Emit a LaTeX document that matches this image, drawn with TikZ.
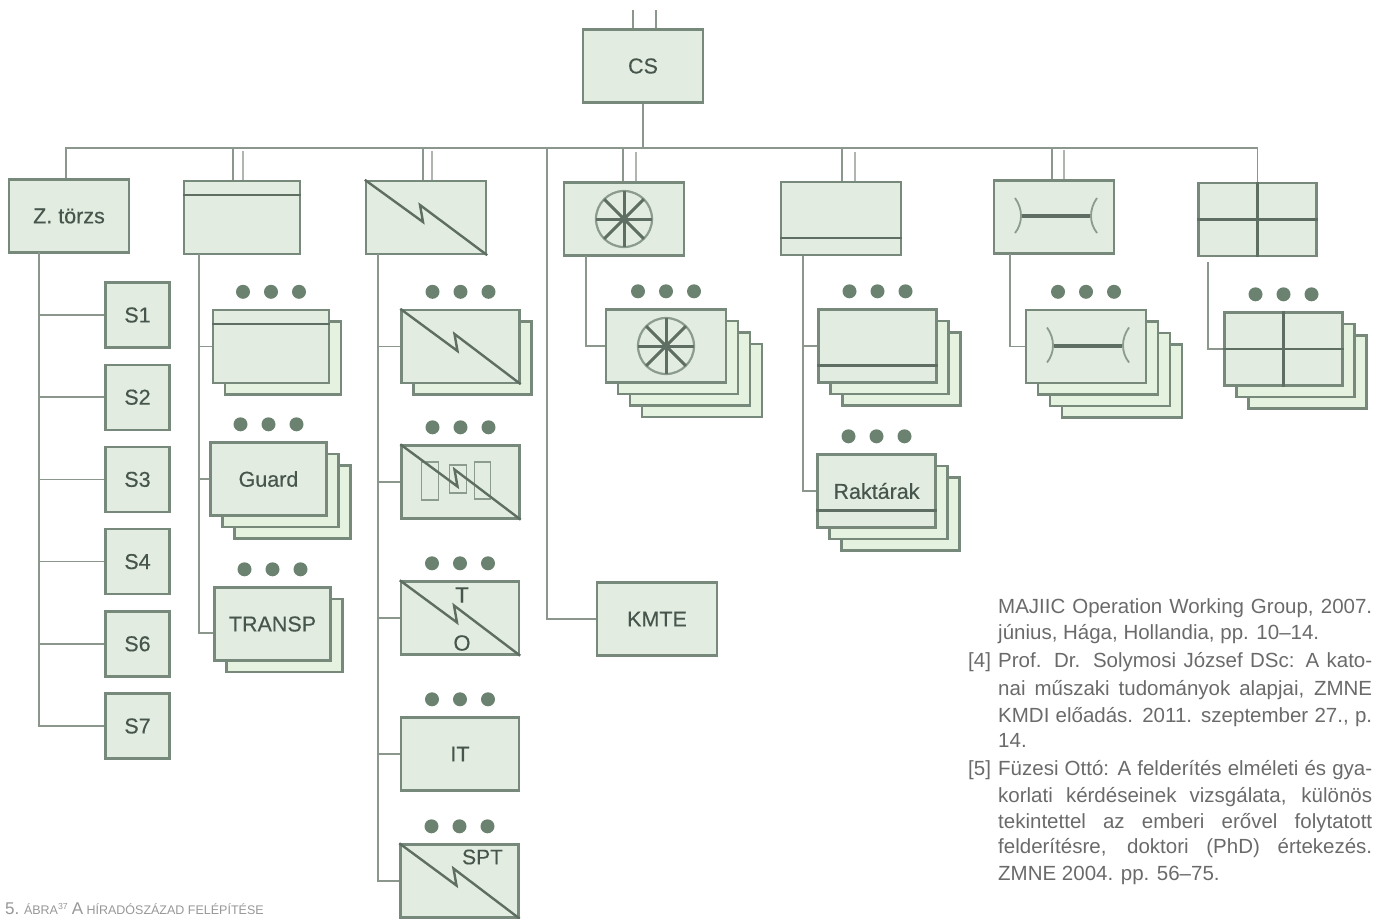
\documentclass[tikz,border=0pt]{standalone}
\usepackage{fontspec}
\setmainfont{Liberation Sans}
\newfontfamily\labelfont[FakeBold=0.35]{Liberation Sans}
\usepackage{xcolor}
\usetikzlibrary{positioning, calc, shadows}
\definecolor{box-line}{HTML}{76897A}
\definecolor{box-fill}{HTML}{E3ECE0}
\definecolor{back-fill}{HTML}{E6F2E0}
\definecolor{link-line}{HTML}{8B978D}
\definecolor{dot-fill}{HTML}{6C8270}
\definecolor{label-text}{HTML}{46564C}
\definecolor{ref-text}{HTML}{6A6A6A}
\tikzset{
	unit/.style={draw=box-line, fill=box-fill, line width=2.4pt, inner sep=0pt, minimum width=118pt, minimum height=73pt, text=label-text, font=\labelfont\fontsize{21.5}{24}\selectfont},
	narrow/.style={minimum width=116pt},
	staff/.style={unit, minimum width=64pt, minimum height=65pt},
	backcopy/.style={copy shadow={shadow xshift=#1*12pt, shadow yshift=-#1*11.5pt, fill=back-fill, draw=box-line, line width=2.4pt}},
	stackone/.style={backcopy=1},
	stacktwo/.style={backcopy=2, backcopy=1},
	stackthree/.style={backcopy=3, backcopy=2, backcopy=1},
	link/.style={draw=link-line, line width=1.6pt},
	stub/.style={draw=link-line!70, line width=2pt},
	symline/.style={draw=box-line!80!black, line width=2.4pt},
	thinline/.style={draw=box-line!85, line width=1.8pt},
	dotmark/.style={circle, fill=dot-fill, inner sep=0pt, minimum size=14pt},
	reftext/.style={anchor=base west, inner sep=0pt, text=ref-text, font=\fontsize{20.5}{22}\selectfont}
}
\newcommand{\threedots}[1]{
	\foreach \d/\n in {-28/l, 0/m, 28/r}
		\node[dotmark] (#1\n) at ($(#1.north)+(\d,-17)$) {};
}
\newcommand{\bolt}[1]{
	\draw[symline] (#1.north west) -- ($(#1.center)+(-3,4.5)$) -- ($(#1.center)+(-6,-12.5)$) -- (#1.south east);
}
\newcommand{\bandline}[2]{
	\draw[symline] ($(#1.north west)+(0,#2)$) -- ($(#1.north east)+(0,#2)$);
}
\newcommand{\wheel}[1]{
	\draw[thinline, line width=2.2pt] (#1.center) circle (28pt);
	\foreach \a in {0,45,...,315}
		\draw[symline, line width=3pt] (#1.center) -- +(\a:28pt);
	\fill[box-line!80!black] (#1.center) circle (4pt);
}
\newcommand{\beam}[1]{
	\draw[symline, line width=4pt] ($(#1.center)+(-32,-1)$) -- ($(#1.center)+(36,-1)$);
	\draw[thinline] ($(#1.center)+(-39,-19)$) .. controls ($(#1.center)+(-31,-8)$) and ($(#1.center)+(-31,6)$) .. ($(#1.center)+(-39,16)$);
	\draw[thinline] ($(#1.center)+(43,-19)$) .. controls ($(#1.center)+(35,-8)$) and ($(#1.center)+(35,6)$) .. ($(#1.center)+(43,16)$);
}
\newcommand{\crosslines}[1]{
	\draw[symline] (#1.north) -- (#1.south);
	\draw[symline] (#1.west) -- (#1.east);
}
\begin{document}
\begin{tikzpicture}[x=1pt, y=-1pt, node distance=14.8pt]
	\useasboundingbox (0,0) rectangle (1375,918);
	\node[unit, minimum width=120pt] (CS) at (643,66) {CS};
	\node[unit, minimum width=120pt] (zt) at (69,216) {Z. törzs};
	\node[unit, narrow] (b2) at (242,217.5) {};
	\node[unit, minimum width=120pt] (b3) at (426,217.5) {};
	\node[unit, minimum width=120pt] (b4) at (624,219) {};
	\node[unit, minimum width=120pt] (b5) at (841,218.5) {};
	\node[unit, minimum width=120pt] (b6) at (1054,217) {};
	\node[unit] (b7) at (1257.5,219.5) {};
	\node[unit, minimum width=120pt] (KMTE) at (657,619) {KMTE};

	\node[staff] (S1) at (137.5,315) {S1};
	\node[staff, below =of S1] (S2) {S2};
	\node[staff, below =of S2] (S3) {S3};
	\node[staff, below =of S3] (S4) {S4};
	\node[staff, below =of S4] (S6) {S6};
	\node[staff, below =of S6] (S7) {S7};

	\node[unit, narrow, stackone] (a2) at (271,346.5) {};
	\node[unit, narrow, stacktwo] (guard) at (268.5,479) {Guard};
	\node[unit, narrow, stackone] (transp) at (272.5,624) {TRANSP};
	\node[unit, stackone] (c1) at (460.5,346.5) {};
	\node[unit] (c2) at (460.5,482) {};
	\node[unit] (c3) at (460,618) {};
	\node[unit] (it) at (460,754) {IT};
	\node[unit] (c5) at (459.5,881) {};
	\node[unit, minimum width=120pt, stackthree] (d1) at (666,346) {};
	\node[unit, stacktwo] (e1) at (877.5,346) {};
	\node[unit, stacktwo] (raktar) at (876.5,491) {Raktárak};
	\node[unit, minimum width=120pt, stackthree] (f1) at (1086,346.5) {};
	\node[unit, stacktwo] (h1) at (1283.5,349) {};

	\threedots{a2} \threedots{guard} \threedots{transp}
	\threedots{c1} \threedots{c2} \threedots{c3} \threedots{it} \threedots{c5}
	\threedots{d1} \threedots{e1} \threedots{raktar} \threedots{f1} \threedots{h1}

	\bandline{b2}{15} \bandline{a2}{15}
	\bandline{b5}{57} \bandline{e1}{57} \bandline{raktar}{57}
	\bolt{b3} \bolt{c1}
	\draw[thinline] ($(c2.center)+(-39,-20)$) rectangle ($(c2.center)+(-22,18)$);
	\draw[thinline] ($(c2.center)+(-11,-17)$) rectangle ($(c2.center)+(6,11)$);
	\draw[thinline] ($(c2.center)+(14,-20)$) rectangle ($(c2.center)+(30,17)$);
	\bolt{c2} \bolt{c3} \bolt{c5}
	\wheel{b4} \wheel{d1}
	\beam{b6} \beam{f1}
	\crosslines{b7} \crosslines{h1}

	\node[text=label-text, font=\labelfont\fontsize{22}{24}\selectfont] (tlabel) at ($(c3.center)+(2,-23)$) {T};
	\node[text=label-text, font=\labelfont\fontsize{22}{24}\selectfont] (olabel) at ($(c3.center)+(2,25)$) {O};
	\node[text=label-text, font=\labelfont\fontsize{21}{24}\selectfont] (spt) at ($(c5.center)+(23,-24)$) {SPT};

	\coordinate (bus) at (643,148);
	\coordinate (kmtebus) at (547,148);
	\coordinate (tz) at (39,252);
	\coordinate (t2) at (199,254);
	\coordinate (t3) at (378,254);
	\coordinate (t4) at (586,256);
	\coordinate (t5) at (803,256);
	\coordinate (t6) at (1010,254);
	\coordinate (t7) at (1208,262);

	\draw[link] (CS) -- (bus);
	\draw[link] (bus) -| ([xshift=-3pt]zt.north);
	\draw[link] (bus) -| ([xshift=-9pt]b2.north);
	\draw[link] (bus) -| ([xshift=-3pt]b3.north);
	\draw[link] (bus) -| ([xshift=-1pt]b4.north);
	\draw[link] (bus) -| ([xshift=1pt]b5.north);
	\draw[link] (bus) -| ([xshift=-2pt]b6.north);
	\draw[link] (bus) -| (b7.north);
	\foreach \n/\s in {b2/1, b3/6, b4/12, b5/14, b6/10}
		\draw[stub] ([xshift=\s pt]\n.north) -- ++(0,-29);
	\draw[link] ([xshift=-10pt]CS.north) -- ++(0,-18);
	\draw[link] ([xshift=13pt]CS.north) -- ++(0,-18);
	\draw[link] (kmtebus) |- (KMTE);
	\foreach \from/\to in {tz/S1, tz/S2, tz/S3, tz/S4, tz/S6, tz/S7, t2/a2, t2/guard, t3/c1, t3/c2, t3/c3, t3/it, t3/c5, t4/d1, t5/e1, t5/raktar, t6/f1, t7/h1}
		\draw[link] (\from) |- (\to);
	\draw[link] (t2) |- ([yshift=-9pt]transp.west);

	\foreach \i/\y/\t in {1/613/{MAJIIC Operation Working Group, 2007.}, 3/667/{Prof. Dr. Solymosi József DSc: A kato-}, 4/695/{nai műszaki tudományok alapjai, ZMNE}, 5/722/{KMDI előadás. 2011. szeptember 27., p.}, 7/775/{Füzesi Ottó: A felderítés elméleti és gya-}, 8/802/{korlati kérdéseinek vizsgálata, különös}, 9/828/{tekintettel az emberi erővel folytatott}, 10/853/{felderítésre, doktori (PhD) értekezés.}}
		\node[reftext] (ref\i) at (998,\y) {\makebox[374pt][s]{\t}};
	\node[reftext] (ref2) at (998,639) {június, Hága, Hollandia, pp. 10–14.};
	\node[reftext] (ref6) at (998,747) {14.};
	\node[reftext] (ref11) at (998,880) {ZMNE 2004. pp. 56–75.};
	\node[reftext] (num4) at (968,667) {[4]};
	\node[reftext] (num5) at (968,775) {[5]};

	\node[anchor=base west, inner sep=0pt, text=ref-text!70, font=\fontsize{12.5}{13}\selectfont] (caption) at (5,914) {{\fontsize{17}{17}\selectfont 5.} ÁBRA\textsuperscript{37} {\fontsize{17}{17}\selectfont A} HÍRADÓSZÁZAD FELÉPÍTÉSE};
\end{tikzpicture}
\end{document}
